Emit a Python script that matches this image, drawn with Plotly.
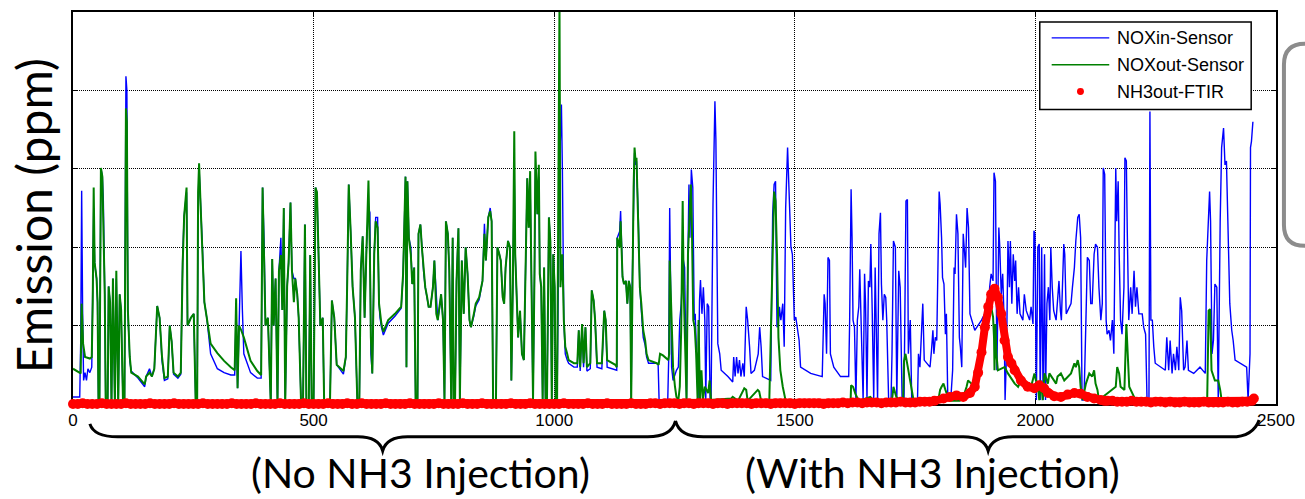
import plotly.graph_objects as go

# NOx sensor readings upstream of the catalyst: (time s, ppm)
NOX_IN = [
    (0, 9), (14, 9), (16, 79), (18, 272), (20, 120), (22, 30), (25, 40), (28, 30), (31, 45), (35, 40),
    (39, 47), (41, 130), (43, 250), (45, 180), (49, 160), (51, 130), (53, 0), (55, 0), (58, 301), (61, 290),
    (63, 260), (66, 140), (68, 0), (72, 0), (74, 150), (77, 130), (80, 0), (83, 160), (87, 0), (90, 160),
    (94, 0), (97, 140), (100, 120), (104, 0), (107, 0), (110, 418), (112, 400), (114, 120), (118, 55), (121, 42),
    (135, 33), (149, 22), (152, 35), (159, 45), (164, 35), (169, 45), (175, 125), (180, 110), (185, 55), (190, 30),
    (197, 32), (201, 100), (205, 80), (209, 38), (218, 33), (224, 38), (228, 190), (231, 240), (236, 270), (238, 100),
    (245, 110), (251, 115), (255, 0), (258, 0), (260, 250), (262, 301), (266, 250), (269, 200), (273, 130), (278, 110),
    (286, 64), (300, 45), (314, 40), (328, 37), (336, 37), (339, 120), (342, 20), (345, 110), (349, 195), (352, 120),
    (355, 64), (369, 40), (383, 33), (391, 33), (394, 276), (397, 210), (400, 100), (405, 110), (409, 50), (411, 0),
    (414, 185), (417, 100), (421, 160), (425, 0), (428, 170), (432, 212), (435, 120), (438, 250), (441, 0), (445, 150),
    (448, 180), (452, 257), (455, 170), (459, 160), (462, 160), (466, 140), (469, 110), (474, 0), (478, 0), (482, 229),
    (485, 0), (490, 0), (493, 190), (496, 0), (500, 0), (504, 276), (507, 270), (510, 200), (514, 100), (519, 110),
    (522, 0), (534, 0), (538, 132), (543, 110), (548, 50), (562, 38), (567, 60), (570, 160), (573, 280), (577, 220),
    (581, 150), (586, 110), (591, 0), (595, 0), (598, 170), (602, 214), (606, 110), (610, 200), (614, 250), (617, 244),
    (619, 64), (622, 39), (626, 191), (629, 238), (633, 238), (636, 128), (638, 110), (641, 98), (645, 88), (655, 103),
    (669, 112), (682, 122), (686, 166), (691, 290), (693, 47), (695, 284), (698, 212), (702, 200), (705, 153), (709, 174),
    (712, 5), (716, 5), (718, 217), (722, 229), (725, 200), (729, 166), (732, 149), (736, 136), (739, 124), (743, 124),
    (748, 149), (751, 183), (755, 140), (758, 107), (762, 124), (765, 140), (769, 107), (772, 5), (775, 233), (779, 217),
    (782, 170), (786, 5), (789, 212), (791, 5), (794, 5), (797, 157), (801, 224), (804, 5), (808, 183), (812, 115),
    (816, 200), (820, 166), (824, 107), (827, 98), (833, 112), (837, 125), (844, 133), (851, 157), (855, 230), (858, 183),
    (863, 238), (867, 250), (870, 233), (873, 5), (879, 5), (882, 200), (886, 191), (889, 183), (893, 136), (896, 128),
    (899, 174), (904, 208), (908, 200), (911, 30), (914, 149), (917, 294), (919, 191), (922, 128), (925, 85), (929, 119),
    (933, 64), (937, 56), (941, 191), (944, 288), (947, 225), (950, 280), (952, 191), (956, 5), (959, 166), (961, 300),
    (965, 242), (968, 290), (970, 166), (973, 149), (976, 5), (979, 174), (982, 5), (985, 5), (989, 238), (992, 208),
    (995, 5), (998, 191), (1001, 149), (1003, 5), (1006, 5), (1011, 300), (1015, 382), (1017, 300), (1020, 107), (1023, 64),
    (1027, 56), (1030, 52), (1041, 47), (1048, 47), (1051, 94), (1054, 42), (1058, 102), (1061, 47), (1065, 98), (1068, 42),
    (1075, 45), (1078, 145), (1082, 132), (1085, 107), (1089, 47), (1099, 45), (1104, 119), (1107, 107), (1110, 47), (1127, 43),
    (1130, 43), (1131, 212), (1136, 220), (1138, 246), (1142, 162), (1145, 153), (1149, 157), (1152, 128), (1155, 157), (1158, 149),
    (1160, 5), (1162, 149), (1165, 276), (1167, 320), (1169, 305), (1171, 310), (1175, 233), (1178, 149), (1181, 120), (1185, 85),
    (1189, 75), (1192, 60), (1196, 52), (1213, 52), (1216, 50), (1218, 5), (1236, 5), (1238, 60), (1240, 250), (1242, 150),
    (1244, 47), (1247, 30), (1251, 39), (1254, 43), (1258, 47), (1261, 107), (1264, 128), (1268, 185), (1271, 174), (1275, 5),
    (1278, 191), (1280, 280), (1282, 212), (1285, 299), (1288, 276), (1291, 107), (1293, 115), (1296, 64), (1299, 5), (1302, 132),
    (1304, 158), (1307, 115), (1310, 149), (1313, 107), (1315, 5), (1318, 128), (1321, 124), (1324, 5), (1326, 5), (1330, 255),
    (1332, 318), (1334, 386), (1336, 338), (1338, 233), (1340, 77), (1344, 64), (1347, 43), (1361, 35), (1371, 28), (1373, 60),
    (1376, 35), (1379, 60), (1382, 39), (1385, 56), (1388, 35), (1392, 52), (1395, 35), (1399, 124), (1402, 107), (1406, 73),
    (1409, 39), (1416, 43), (1424, 64), (1427, 98), (1430, 73), (1433, 35), (1450, 30), (1454, 242), (1457, 280), (1460, 284),
    (1463, 98), (1466, 102), (1468, 124), (1471, 107), (1475, 128), (1478, 73), (1481, 250), (1485, 327), (1488, 276), (1492, 200),
    (1495, 191), (1499, 107), (1502, 111), (1505, 98), (1509, 81), (1512, 47), (1533, 39), (1557, 35), (1561, 140), (1563, 128),
    (1566, 64), (1569, 187), (1572, 183), (1574, 64), (1581, 47), (1595, 35), (1612, 35), (1614, 107), (1617, 274), (1619, 212),
    (1621, 107), (1624, 98), (1627, 5), (1630, 107), (1633, 124), (1635, 172), (1638, 85), (1642, 5), (1645, 166), (1647, 128),
    (1650, 5), (1653, 157), (1656, 149), (1658, 204), (1661, 115), (1664, 5), (1667, 174), (1669, 107), (1672, 5), (1675, 217),
    (1678, 244), (1680, 153), (1683, 107), (1686, 140), (1689, 136), (1691, 107), (1695, 5), (1700, 5), (1702, 64), (1705, 208),
    (1709, 200), (1712, 5), (1716, 170), (1719, 149), (1723, 5), (1727, 5), (1729, 107), (1731, 259), (1734, 261), (1736, 64),
    (1740, 107), (1743, 5), (1755, 5), (1757, 64), (1760, 47), (1764, 107), (1766, 128), (1769, 56), (1774, 52), (1781, 47),
    (1784, 68), (1787, 94), (1789, 64), (1792, 85), (1795, 81), (1798, 208), (1800, 271), (1802, 255), (1805, 212), (1807, 161),
    (1810, 153), (1813, 89), (1815, 115), (1818, 5), (1824, 5), (1828, 43), (1831, 174), (1833, 166), (1836, 242), (1839, 217),
    (1842, 85), (1844, 73), (1847, 47), (1850, 217), (1853, 191), (1855, 174), (1858, 250), (1861, 225), (1864, 115), (1871, 98),
    (1874, 94), (1888, 107), (1895, 115), (1902, 124), (1905, 149), (1908, 166), (1912, 157), (1914, 295), (1917, 284), (1918, 208),
    (1920, 43), (1922, 128), (1924, 225), (1926, 200), (1929, 140), (1932, 166), (1935, 107), (1937, 5), (1940, 64), (1943, 208),
    (1946, 149), (1948, 208), (1951, 128), (1954, 191), (1957, 157), (1959, 183), (1962, 115), (1965, 149), (1968, 115), (1974, 107),
    (1977, 140), (1981, 119), (1988, 107), (1991, 124), (1995, 102), (1997, 221), (1999, 217), (2002, 5), (2005, 200), (2008, 204),
    (2010, 5), (2013, 200), (2016, 5), (2019, 191), (2021, 5), (2024, 128), (2027, 149), (2030, 107), (2032, 200), (2035, 149),
    (2038, 119), (2043, 107), (2046, 128), (2049, 157), (2052, 119), (2054, 107), (2059, 204), (2061, 191), (2064, 115), (2074, 128),
    (2077, 149), (2081, 174), (2084, 208), (2088, 238), (2091, 242), (2094, 212), (2097, 5), (2101, 5), (2105, 107), (2108, 187),
    (2112, 183), (2115, 128), (2118, 128), (2122, 191), (2125, 204), (2129, 200), (2132, 149), (2136, 107), (2139, 128), (2141, 301),
    (2144, 293), (2147, 107), (2149, 89), (2153, 94), (2156, 81), (2160, 107), (2163, 64), (2167, 301), (2169, 233), (2172, 284),
    (2174, 195), (2177, 107), (2180, 89), (2184, 149), (2186, 314), (2189, 310), (2191, 217), (2194, 107), (2198, 149), (2201, 115),
    (2205, 170), (2208, 124), (2211, 149), (2215, 115), (2222, 115), (2225, 98), (2229, 89), (2232, 5), (2236, 5), (2238, 373),
    (2240, 107), (2243, 107), (2246, 73), (2249, 52), (2270, 43), (2273, 85), (2277, 43), (2280, 81), (2284, 39), (2287, 64),
    (2291, 43), (2294, 73), (2298, 43), (2301, 136), (2304, 119), (2308, 43), (2311, 47), (2315, 81), (2318, 43), (2329, 39),
    (2342, 47), (2353, 39), (2356, 183), (2360, 238), (2362, 271), (2364, 233), (2367, 64), (2370, 81), (2373, 153), (2377, 149),
    (2380, 5), (2384, 233), (2387, 327), (2391, 352), (2394, 305), (2397, 310), (2401, 191), (2404, 128), (2408, 94), (2411, 81),
    (2415, 56), (2425, 52), (2439, 47), (2442, 5), (2446, 64), (2447, 327), (2449, 335), (2452, 360),
]

# NOx sensor readings downstream of the catalyst: (time s, ppm)
NOX_OUT = [
    (0, 45), (14, 39), (16, 39), (18, 128), (21, 77), (25, 60), (35, 58), (39, 60), (41, 130), (43, 276),
    (45, 180), (49, 160), (51, 130), (53, 0), (55, 0), (58, 301), (61, 290), (63, 230), (66, 140), (68, 0),
    (72, 0), (74, 150), (77, 130), (80, 0), (83, 160), (87, 0), (90, 170), (94, 0), (97, 140), (100, 120),
    (104, 0), (107, 0), (110, 377), (112, 360), (114, 120), (118, 60), (121, 40), (135, 35), (149, 25), (152, 35),
    (159, 40), (164, 35), (169, 45), (175, 125), (180, 110), (185, 60), (190, 33), (197, 35), (201, 100), (205, 80),
    (209, 40), (218, 35), (224, 40), (228, 180), (231, 240), (236, 276), (238, 100), (245, 110), (251, 115), (255, 0),
    (258, 0), (260, 270), (262, 307), (266, 240), (269, 200), (273, 130), (278, 110), (286, 77), (300, 65), (314, 55),
    (328, 47), (336, 43), (339, 135), (342, 20), (345, 100), (349, 95), (355, 85), (369, 55), (383, 42), (391, 37),
    (394, 276), (397, 200), (400, 100), (405, 110), (409, 50), (411, 0), (414, 185), (417, 100), (421, 160), (425, 0),
    (428, 170), (432, 190), (435, 120), (438, 250), (441, 0), (445, 150), (448, 180), (452, 257), (455, 170), (459, 130),
    (462, 160), (466, 140), (469, 110), (474, 0), (478, 0), (482, 229), (485, 0), (490, 0), (493, 190), (496, 0),
    (500, 0), (504, 276), (507, 270), (510, 200), (514, 100), (519, 110), (522, 0), (534, 0), (538, 132), (543, 110),
    (548, 50), (562, 42), (567, 60), (570, 160), (573, 280), (577, 220), (581, 150), (586, 110), (591, 0), (595, 0),
    (598, 170), (602, 214), (606, 110), (610, 200), (614, 285), (617, 191), (619, 85), (622, 39), (626, 191), (629, 233),
    (633, 225), (636, 128), (638, 115), (641, 102), (645, 92), (655, 107), (669, 115), (682, 124), (686, 166), (691, 290),
    (693, 47), (695, 284), (698, 212), (702, 191), (705, 153), (709, 174), (712, 5), (716, 5), (718, 217), (722, 229),
    (725, 200), (729, 166), (732, 149), (736, 136), (739, 124), (743, 124), (748, 149), (751, 183), (755, 115), (758, 107),
    (762, 124), (765, 140), (769, 107), (772, 5), (775, 233), (779, 217), (782, 170), (786, 5), (789, 212), (791, 5),
    (794, 5), (797, 157), (801, 224), (804, 5), (808, 183), (812, 115), (816, 200), (820, 166), (824, 107), (827, 98),
    (833, 115), (837, 128), (844, 136), (851, 157), (855, 217), (858, 183), (863, 238), (867, 246), (870, 233), (873, 5),
    (879, 5), (882, 200), (886, 191), (889, 183), (893, 136), (896, 128), (899, 174), (904, 208), (908, 200), (911, 30),
    (914, 149), (917, 348), (919, 191), (922, 128), (925, 85), (929, 119), (933, 64), (937, 56), (941, 191), (944, 288),
    (947, 225), (950, 297), (952, 191), (956, 5), (959, 166), (961, 322), (965, 242), (968, 305), (970, 166), (973, 149),
    (976, 5), (979, 174), (982, 5), (985, 5), (989, 238), (992, 208), (995, 5), (998, 191), (1001, 149), (1003, 5),
    (1006, 5), (1011, 510), (1013, 149), (1017, 191), (1020, 107), (1023, 73), (1027, 64), (1030, 56), (1041, 52), (1048, 52),
    (1051, 94), (1054, 47), (1058, 102), (1061, 52), (1065, 98), (1068, 47), (1075, 52), (1078, 145), (1082, 132), (1085, 107),
    (1089, 52), (1099, 52), (1104, 119), (1107, 107), (1110, 56), (1127, 50), (1130, 47), (1131, 212), (1136, 200), (1138, 233),
    (1142, 162), (1145, 153), (1149, 157), (1152, 128), (1155, 157), (1158, 149), (1160, 5), (1162, 149), (1165, 276), (1167, 327),
    (1169, 310), (1171, 314), (1175, 233), (1178, 149), (1181, 128), (1185, 94), (1189, 81), (1192, 64), (1196, 56), (1213, 52),
    (1217, 50), (1220, 64), (1226, 62), (1233, 58), (1237, 56), (1239, 64), (1240, 183), (1244, 107), (1247, 47), (1251, 22),
    (1254, 9), (1258, 5), (1261, 22), (1264, 98), (1267, 259), (1269, 149), (1271, 107), (1275, 5), (1278, 191), (1282, 246),
    (1284, 280), (1286, 233), (1289, 107), (1292, 98), (1295, 64), (1298, 5), (1300, 107), (1303, 5), (1306, 43), (1309, 5),
    (1313, 22), (1320, 14), (1323, 30), (1326, 5), (1368, 7), (1371, 9), (1382, 4), (1395, 20), (1399, 18), (1402, 4),
    (1423, 18), (1426, 16), (1430, 4), (1447, 4), (1450, 85), (1454, 170), (1457, 271), (1460, 259), (1463, 191), (1466, 85),
    (1470, 43), (1475, 22), (1478, 14), (1481, 4), (1616, 4), (1617, 24), (1621, 22), (1626, 13), (1633, 4), (1657, 9),
    (1664, 4), (1702, 4), (1705, 22), (1711, 9), (1719, 4), (1725, 4), (1727, 55), (1730, 64), (1734, 50), (1738, 35),
    (1743, 22), (1747, 4), (1798, 4), (1802, 18), (1805, 22), (1809, 26), (1813, 18), (1817, 10), (1821, 4), (1843, 4),
    (1850, 9), (1857, 22), (1860, 30), (1867, 26), (1874, 26), (1881, 30), (1888, 56), (1895, 94), (1902, 115), (1908, 124),
    (1912, 111), (1914, 85), (1915, 43), (1917, 102), (1919, 64), (1922, 43), (1936, 47), (1943, 39), (1957, 26), (1964, 22),
    (1970, 30), (1977, 22), (1991, 22), (1998, 39), (2001, 30), (2005, 26), (2008, 5), (2012, 30), (2015, 5), (2019, 39),
    (2026, 26), (2029, 39), (2039, 30), (2043, 26), (2046, 35), (2053, 39), (2060, 30), (2067, 35), (2074, 39), (2081, 52),
    (2084, 47), (2088, 56), (2091, 47), (2094, 22), (2098, 5), (2105, 26), (2112, 39), (2118, 35), (2122, 43), (2125, 26),
    (2129, 18), (2132, 5), (2167, 22), (2170, 47), (2174, 39), (2177, 22), (2185, 18), (2189, 102), (2192, 64), (2195, 22),
    (2205, 9), (2211, 5), (2357, 5), (2360, 119), (2363, 121), (2366, 43), (2373, 30), (2380, 30), (2384, 18), (2387, 5),
    (2430, 5),
]

# FTIR ammonia slip downstream of the catalyst, logged every 10 s (ppm)
T_NH3_PRE = list(range(0, 1800, 10))
NH3_PRE = [
    0, 0, 1, 0, 0, 0, 1, 0, 0, 0, 0, 1, 0, 0, 0, 0, 1, 0, 0, 0,
    0, 1, 0, 0, 0, 0, 0, 1, 0, 0, 0, 0, 0, 1, 0, 0, 0, 0, 1, 0,
    0, 0, 0, 1, 0, 0, 0, 0, 1, 0, 0, 0, 0, 1, 0, 0, 0, 1, 0, 0,
    1, 0, 0, 0, 0, 1, 0, 0, 0, 0, 1, 0, 0, 0, 0, 0, 1, 0, 0, 0,
    0, 1, 0, 0, 0, 1, 0, 0, 0, 0, 0, 1, 0, 0, 0, 1, 0, 0, 0, 0,
    0, 0, 1, 0, 0, 0, 0, 1, 0, 0, 0, 1, 0, 0, 0, 0, 1, 0, 0, 0,
    1, 1, 0, 1, 1, 1, 0, 1, 1, 0, 1, 1, 1, 0, 1, 1, 0, 1, 1, 1,
    1, 0, 1, 1, 1, 0, 1, 1, 1, 1, 0, 1, 1, 1, 1, 1, 0, 1, 1, 1,
    2, 1, 2, 2, 1, 2, 2, 2, 1, 2, 2, 2, 3, 2, 2, 2, 3, 3, 3, 4,
]
# slip event after dosing starts: (time s, ppm)
NH3_EVENT = [
    (1809, 7), (1822, 9), (1836, 11), (1850, 9), (1864, 14), (1874, 22), (1881, 40), (1888, 66), (1895, 98), (1902, 124),
    (1908, 140), (1915, 147), (1922, 136), (1929, 115), (1936, 81), (1943, 60), (1950, 52), (1957, 43), (1970, 30), (1984, 22),
    (1998, 20), (2008, 24), (2018, 20), (2026, 14), (2039, 10), (2053, 9), (2067, 12), (2081, 14), (2094, 13), (2108, 9),
    (2122, 7), (2136, 5), (2144, 4),
]
T_NH3_POST = list(range(2150, 2460, 10)) + [2454]
NH3_POST = [
    4, 4, 3, 3, 3, 4, 3, 3, 3, 2, 3, 3, 2, 3, 2, 2, 3, 2, 2, 2,
    3, 2, 2, 2, 2, 3, 2, 2, 3, 3, 4, 7,
]

SERIES = ["NOXin-Sensor", "NOXout-Sensor", "NH3out-FTIR"]
COLORS = ["#0000ff", "#008000", "#ff0000"]
X_TICKS = [0, 500, 1000, 1500, 2000, 2500]
Y_TICKS = [0, 100, 200, 300, 400, 500]
PHASES = ["(No NH3 Injection)", "(With NH3 Injection)"]
Y_TITLE = "Emission (ppm)"

W, H = 1305, 499
PL, PR, PT, PB = 73, 1285, 10, 404


def paper(x, y):
    """Pixel position on the page -> paper coordinates."""
    return (x - PL) / (PR - PL), (PB - y) / (PB - PT)


def path(segments):
    parts = []
    for cmd, *pts in segments:
        parts.append(cmd + " ".join("%.5f,%.5f" % paper(x, y) for x, y in pts))
    return " ".join(parts)


fig = go.Figure()

for series, name, color, width in [(NOX_IN, SERIES[0], COLORS[0], 1.4), (NOX_OUT, SERIES[1], COLORS[1], 2.0)]:
    t, v = zip(*series)
    fig.add_trace(go.Scatter(x=t, y=v, mode="lines", name=name,
                             line=dict(color=color, width=width)))

ev_t, ev_v = zip(*NH3_EVENT)
t_nh3 = T_NH3_PRE + list(ev_t) + T_NH3_POST
v_nh3 = NH3_PRE + list(ev_v) + NH3_POST
fig.add_trace(go.Scatter(x=t_nh3, y=v_nh3, mode="lines+markers", name=SERIES[2],
                         line=dict(color=COLORS[2], width=8),
                         marker=dict(color=COLORS[2], size=10),
                         cliponaxis=False))

axis_common = dict(
    showline=True, linecolor="black", linewidth=1.5, mirror="ticks",
    ticks="inside", ticklen=5, tickcolor="black", tickwidth=1,
    showgrid=True, gridcolor="black", gridwidth=1, griddash="1px,1px",
    zeroline=False, layer="below traces",
)
fig.update_xaxes(range=[0, 2500], tickvals=X_TICKS,
                 tickfont=dict(family="Liberation Sans", size=17, color="black"),
                 **axis_common)
fig.update_yaxes(range=[0, 500], tickvals=Y_TICKS, showticklabels=False, **axis_common)

shapes = []
# curly braces marking the two test phases
brace_style = dict(type="path", xref="paper", yref="paper", line=dict(color="black", width=3))
shapes.append(dict(path=path([
    ("M", (90, 424)), ("Q", (94, 437), (118, 437)), ("L", (360, 437)),
    ("Q", (381, 437), (385, 451)), ("Q", (389, 437), (410, 437)), ("L", (652, 437)),
    ("Q", (676, 437), (680, 421)),
]), **brace_style))
shapes.append(dict(path=path([
    ("M", (680, 421)), ("Q", (684, 437), (708, 437)), ("L", (970, 437)),
    ("Q", (991, 437), (995, 451)), ("Q", (999, 437), (1020, 437)), ("L", (1240, 437)),
    ("Q", (1262, 437), (1268, 420)),
]), **brace_style))
# side panel outline at the right edge
shapes.append(dict(type="path", xref="paper", yref="paper", line=dict(color="#8c8c8c", width=4),
                   path=path([("M", (1320, 42)), ("L", (1314, 42)), ("Q", (1293, 42), (1293, 63)),
                              ("L", (1293, 224)), ("Q", (1293, 245), (1314, 245)), ("L", (1320, 245))])))

# legend box
lx0, ly0, lx1, ly1 = paper(1047, 20) + paper(1260, 108)
shapes.append(dict(type="rect", xref="paper", yref="paper", x0=lx0, y0=ly0, x1=lx1, y1=ly1,
                   line=dict(color="black", width=1.5), fillcolor="white"))
row_y = [36, 63, 90]
for i in range(2):
    a = paper(1059, row_y[i]); b = paper(1117, row_y[i])
    shapes.append(dict(type="line", xref="paper", yref="paper", x0=a[0], y0=a[1], x1=b[0], y1=b[1],
                       line=dict(color=COLORS[i], width=1.3)))
c0 = paper(1084.5, row_y[2] - 3.5); c1 = paper(1091.5, row_y[2] + 3.5)
shapes.append(dict(type="circle", xref="paper", yref="paper", x0=c0[0], y0=c1[1], x1=c1[0], y1=c0[1],
                   line=dict(color=COLORS[2], width=0), fillcolor=COLORS[2]))

annotations = []
for i, name in enumerate(SERIES):
    x, y = paper(1123, row_y[i])
    annotations.append(dict(x=x, y=y, xref="paper", yref="paper", text=name, showarrow=False,
                            xanchor="left", yanchor="middle",
                            font=dict(family="Liberation Sans", size=18, color="black")))

for label, cx in zip(PHASES, [423, 939]):
    x, y = paper(cx, 473)
    annotations.append(dict(x=x, y=y, xref="paper", yref="paper", text=label, showarrow=False,
                            xanchor="center", yanchor="middle",
                            font=dict(family="Lato", size=41, color="black")))

x, y = paper(34, 215)
annotations.append(dict(x=x, y=y, xref="paper", yref="paper", text=Y_TITLE, showarrow=False,
                        textangle=-90, xanchor="center", yanchor="middle",
                        font=dict(family="Lato", size=48, color="black")))

fig.update_layout(
    width=W, height=H,
    margin=dict(l=PL, r=W - PR, t=PT, b=H - PB),
    paper_bgcolor="white", plot_bgcolor="white",
    showlegend=False,
    shapes=shapes, annotations=annotations,
)

fig.write_html("out.html")
